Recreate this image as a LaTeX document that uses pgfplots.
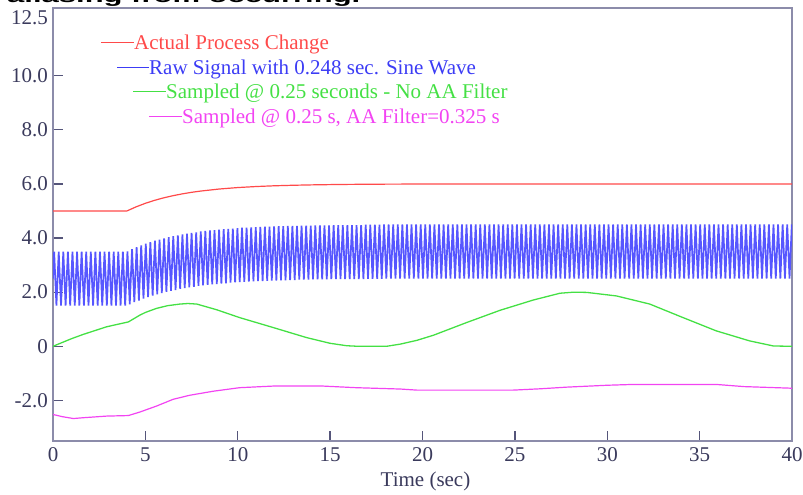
\documentclass[border=0pt]{standalone}
\usepackage{fontspec}
\setmainfont{Liberation Serif}
\newfontfamily\titlefont{Liberation Sans}
\usepackage{pgfplots}
\pgfplotsset{compat=1.18}
\definecolor{frame}{HTML}{8C8CAA}
\definecolor{tickc}{HTML}{55557A}
\definecolor{labelc}{HTML}{3A3A5C}
\definecolor{cred}{HTML}{FF4A4A}
\definecolor{cblue}{HTML}{3C3CF5}
\definecolor{cband}{HTML}{5656FF}
\definecolor{cgreen}{HTML}{44E044}
\definecolor{cmag}{HTML}{F244F2}
\begin{document}
\fontsize{21}{24}\selectfont
\begin{tikzpicture}
% cropped caption line from the page above the chart
\node[anchor=base west,inner sep=0pt,text=black] at (7pt,492pt)
  {\scalebox{1}[0.6]{\titlefont\bfseries\fontsize{31}{31}\selectfont aliasing from occurring.}};
\begin{axis}[
  at={(53pt,54pt)}, anchor=south west,
  scale only axis, width=739pt, height=433pt,
  xmin=0, xmax=40, ymin=-3.5, ymax=12.5,
  xtick={0,5,...,40},
  ytick={-2,0,2,4,6,8,10},
  yticklabels={-2.0,0,2.0,4.0,6.0,8.0,10.0},
  extra y ticks={12.5}, extra y tick labels={12.5},
  extra y tick style={major tick length=0pt,yticklabel style={yshift=-10pt}},
  tick pos=left, tick align=inside, major tick length=10pt,
  axis line style={draw=frame,line width=1.8pt},
  tick style={draw=tickc,line width=1.3pt},
  /pgf/number format/assume math mode=true,
  ticklabel style={font=\fontsize{21}{24}\selectfont,text=labelc},
  xticklabel style={anchor=base,yshift=-21pt},
  yticklabel style={anchor=east,inner sep=0pt,xshift=-5pt},
  xlabel={Time (sec)},
  xlabel style={font=\fontsize{21}{24}\selectfont,text=labelc,
    at={(axis description cs:0.5,0)},anchor=base,yshift=-46pt,xshift=3pt},
]
% actual process change
\addplot[cred,line width=1.2pt] coordinates {
  (0,5.0) (4.0,5.0) (4.5,5.153) (5.0,5.283) (5.5,5.393) (6.0,5.487) (6.5,5.565)
  (7.0,5.632) (7.5,5.689) (8.0,5.736) (9.0,5.811) (10.0,5.865) (11.0,5.903)
  (12.0,5.931) (13.0,5.950) (14.0,5.964) (15.0,5.974) (16.0,5.982) (18.0,5.991)
  (20.0,5.995) (25.0,6.0) (40.0,6.0)};
% raw signal, 0.248 s sine riding on the process
\addplot[cband,line width=1.7pt] coordinates {
(0,2.5)
(0.062,3.5) (0.186,1.5) (0.310,3.5) (0.434,1.5) (0.558,3.5) (0.682,1.5) (0.806,3.5) (0.930,1.5)
(1.054,3.5) (1.178,1.5) (1.302,3.5) (1.426,1.5) (1.550,3.5) (1.674,1.5) (1.798,3.5) (1.922,1.5)
(2.046,3.5) (2.170,1.5) (2.294,3.5) (2.418,1.5) (2.542,3.5) (2.666,1.5) (2.790,3.5) (2.914,1.5)
(3.038,3.5) (3.162,1.5) (3.286,3.5) (3.410,1.5) (3.534,3.5) (3.658,1.5) (3.782,3.5) (3.906,1.5)
(4.030,3.51) (4.154,1.55) (4.278,3.59) (4.402,1.63) (4.526,3.66) (4.650,1.69) (4.774,3.73) (4.898,1.76)
(5.022,3.79) (5.146,1.82) (5.270,3.85) (5.394,1.87) (5.518,3.90) (5.642,1.92) (5.766,3.94) (5.890,1.97)
(6.014,3.99) (6.138,2.01) (6.262,4.03) (6.386,2.05) (6.510,4.07) (6.634,2.08) (6.758,4.10) (6.882,2.12)
(7.006,4.13) (7.130,2.15) (7.254,4.16) (7.378,2.18) (7.502,4.19) (7.626,2.20) (7.750,4.21) (7.874,2.23)
(7.998,4.24) (8.122,2.25) (8.246,4.26) (8.370,2.27) (8.494,4.28) (8.618,2.29) (8.742,4.29) (8.866,2.30)
(8.990,4.31) (9.114,2.32) (9.238,4.33) (9.362,2.33) (9.486,4.34) (9.610,2.35) (9.734,4.35) (9.858,2.36)
(9.982,4.36) (10.106,2.37) (10.230,4.38) (10.354,2.38) (10.478,4.38) (10.602,2.39) (10.726,4.39) (10.850,2.40)
(10.974,4.40) (11.098,2.41) (11.222,4.41) (11.346,2.41) (11.470,4.42) (11.594,2.42) (11.718,4.42) (11.842,2.43)
(11.966,4.43) (12.090,2.43) (12.214,4.44) (12.338,2.44) (12.462,4.44) (12.586,2.44) (12.710,4.45) (12.834,2.45)
(12.958,4.45) (13.082,2.45) (13.206,4.45) (13.330,2.46) (13.454,4.46) (13.578,2.46) (13.702,4.46) (13.826,2.46)
(13.950,4.46) (14.074,2.47) (14.198,4.47) (14.322,2.47) (14.446,4.47) (14.570,2.47) (14.694,4.47) (14.818,2.47)
(14.942,4.47) (15.066,2.48) (15.190,4.48) (15.314,2.48) (15.438,4.48) (15.562,2.48) (15.686,4.48) (15.810,2.48)
(15.934,4.48) (16.058,2.48) (16.182,4.48) (16.306,2.48) (16.430,4.48) (16.554,2.48) (16.678,4.48) (16.802,2.48)
(16.926,4.49) (17.050,2.49) (17.174,4.49) (17.298,2.49) (17.422,4.49) (17.546,2.49) (17.670,4.49) (17.794,2.49)
(17.918,4.5) (18.042,2.5) (18.166,4.5) (18.290,2.5) (18.414,4.5) (18.538,2.5) (18.662,4.5) (18.786,2.5)
(18.910,4.5) (19.034,2.5) (19.158,4.5) (19.282,2.5) (19.406,4.5) (19.530,2.5) (19.654,4.5) (19.778,2.5)
(19.902,4.5) (20.026,2.5) (20.150,4.5) (20.274,2.5) (20.398,4.5) (20.522,2.5) (20.646,4.5) (20.770,2.5)
(20.894,4.5) (21.018,2.5) (21.142,4.5) (21.266,2.5) (21.390,4.5) (21.514,2.5) (21.638,4.5) (21.762,2.5)
(21.886,4.5) (22.010,2.5) (22.134,4.5) (22.258,2.5) (22.382,4.5) (22.506,2.5) (22.630,4.5) (22.754,2.5)
(22.878,4.5) (23.002,2.5) (23.126,4.5) (23.250,2.5) (23.374,4.5) (23.498,2.5) (23.622,4.5) (23.746,2.5)
(23.870,4.5) (23.994,2.5) (24.118,4.5) (24.242,2.5) (24.366,4.5) (24.490,2.5) (24.614,4.5) (24.738,2.5)
(24.862,4.5) (24.986,2.5) (25.110,4.5) (25.234,2.5) (25.358,4.5) (25.482,2.5) (25.606,4.5) (25.730,2.5)
(25.854,4.5) (25.978,2.5) (26.102,4.5) (26.226,2.5) (26.350,4.5) (26.474,2.5) (26.598,4.5) (26.722,2.5)
(26.846,4.5) (26.970,2.5) (27.094,4.5) (27.218,2.5) (27.342,4.5) (27.466,2.5) (27.590,4.5) (27.714,2.5)
(27.838,4.5) (27.962,2.5) (28.086,4.5) (28.210,2.5) (28.334,4.5) (28.458,2.5) (28.582,4.5) (28.706,2.5)
(28.830,4.5) (28.954,2.5) (29.078,4.5) (29.202,2.5) (29.326,4.5) (29.450,2.5) (29.574,4.5) (29.698,2.5)
(29.822,4.5) (29.946,2.5) (30.070,4.5) (30.194,2.5) (30.318,4.5) (30.442,2.5) (30.566,4.5) (30.690,2.5)
(30.814,4.5) (30.938,2.5) (31.062,4.5) (31.186,2.5) (31.310,4.5) (31.434,2.5) (31.558,4.5) (31.682,2.5)
(31.806,4.5) (31.930,2.5) (32.054,4.5) (32.178,2.5) (32.302,4.5) (32.426,2.5) (32.550,4.5) (32.674,2.5)
(32.798,4.5) (32.922,2.5) (33.046,4.5) (33.170,2.5) (33.294,4.5) (33.418,2.5) (33.542,4.5) (33.666,2.5)
(33.790,4.5) (33.914,2.5) (34.038,4.5) (34.162,2.5) (34.286,4.5) (34.410,2.5) (34.534,4.5) (34.658,2.5)
(34.782,4.5) (34.906,2.5) (35.030,4.5) (35.154,2.5) (35.278,4.5) (35.402,2.5) (35.526,4.5) (35.650,2.5)
(35.774,4.5) (35.898,2.5) (36.022,4.5) (36.146,2.5) (36.270,4.5) (36.394,2.5) (36.518,4.5) (36.642,2.5)
(36.766,4.5) (36.890,2.5) (37.014,4.5) (37.138,2.5) (37.262,4.5) (37.386,2.5) (37.510,4.5) (37.634,2.5)
(37.758,4.5) (37.882,2.5) (38.006,4.5) (38.130,2.5) (38.254,4.5) (38.378,2.5) (38.502,4.5) (38.626,2.5)
(38.750,4.5) (38.874,2.5) (38.998,4.5) (39.122,2.5) (39.246,4.5) (39.370,2.5) (39.494,4.5) (39.618,2.5)
(39.742,4.5) (39.866,2.5) (39.990,4.5)};
% sampled at 0.25 s, no anti-alias filter
\addplot[cgreen,line width=1.3pt] coordinates {
  (0,0) (1.0,0.28) (1.64,0.44) (2.9,0.72) (4.08,0.90) (4.7,1.15) (5.0,1.25)
  (5.6,1.40) (6.2,1.50) (6.87,1.56) (7.3,1.58) (7.78,1.56) (8.86,1.35) (10.1,1.06)
  (11.93,0.69) (13.73,0.32) (15.0,0.11) (15.9,0.02) (16.5,0) (18.06,0) (18.8,0.08)
  (19.7,0.22) (20.6,0.41) (22.4,0.88) (24.2,1.33) (26.0,1.71) (27.44,1.96)
  (28.2,2.0) (28.9,1.99) (30.5,1.86) (32.3,1.56) (34.1,1.06) (35.9,0.57)
  (37.7,0.20) (39.0,0.01) (40,0)};
% sampled at 0.25 s with AA filter
\addplot[cmag,line width=1.2pt] coordinates {
  (0,-2.52) (0.5,-2.60) (1.1,-2.67) (1.64,-2.64) (2.9,-2.58) (4.08,-2.56)
  (4.7,-2.43) (5.6,-2.21) (6.5,-1.96) (7.4,-1.81) (8.68,-1.66) (10.1,-1.53)
  (11.93,-1.47) (14.6,-1.47) (16.4,-1.53) (18.8,-1.58) (19.7,-1.62) (24.9,-1.62)
  (26.4,-1.57) (27.8,-1.51) (30.0,-1.44) (31.4,-1.41) (35.9,-1.41) (37.4,-1.49)
  (40,-1.55)};
\end{axis}
% staggered legend
\draw[cred,line width=1pt] (101pt,452pt) -- (134pt,452pt);
\node[anchor=base west,inner sep=0pt,text=cred] at (134pt,445pt) {Actual Process Change};
\draw[cblue,line width=1pt] (117pt,427pt) -- (149pt,427pt);
\node[anchor=base west,inner sep=0pt,text=cblue] at (149pt,420pt) {Raw Signal with 0.248 sec. Sine Wave};
\draw[cgreen,line width=1pt] (133pt,403pt) -- (166pt,403pt);
\node[anchor=base west,inner sep=0pt,text=cgreen] at (166pt,396pt) {Sampled @ 0.25 seconds - No AA Filter};
\draw[cmag,line width=1pt] (149pt,378pt) -- (182pt,378pt);
\node[anchor=base west,inner sep=0pt,text=cmag] at (182pt,371pt) {Sampled @ 0.25 s, AA Filter=0.325 s};
\pgfresetboundingbox
\path[use as bounding box] (0,0) rectangle (803pt,495pt);
\end{tikzpicture}
\end{document}
